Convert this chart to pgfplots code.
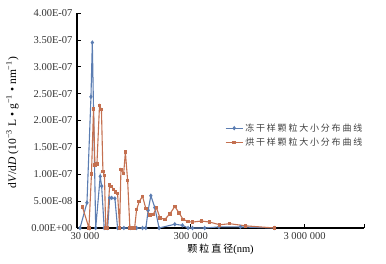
\documentclass[border=0pt]{standalone}
\usepackage{pgfplots}
\pgfplotsset{compat=1.18}
\usepackage{fontspec}
\setmainfont{Liberation Serif}
\newfontfamily\cjk[LetterSpace=20]{Noto Sans CJK SC}
\definecolor{cblue}{RGB}{91,125,178}
\definecolor{cred}{RGB}{196,112,80}
\begin{document}
\begin{tikzpicture}
\useasboundingbox (0,0) rectangle (386pt,264pt);
\begin{axis}[
  at={(77pt,36pt)}, anchor=south west,
  scale only axis, width=287pt, height=215pt,
  xmode=log, log basis x=10,
  xmin=30000, xmax=10000000,
  ymin=0, ymax=4e-7,
  scaled y ticks=false,
  axis x line=bottom, axis y line=left,
  axis line style={-, line width=1.3pt, black},
  tick align=inside, major tick length=4pt,
  tick style={black, line width=0.6pt},
  xtick={30000,300000,3000000,10000000},
  xticklabels={\hspace*{16pt}30 000,300 000,3 000 000,{}},
  minor xtick={}, minor tick length=0pt,
  ytick={0,5e-8,1e-7,1.5e-7,2e-7,2.5e-7,3e-7,3.5e-7,4e-7},
  yticklabels={0.00E+00,5.00E-08,1.00E-07,1.50E-07,2.00E-07,2.50E-07,3.00E-07,3.50E-07,4.00E-07},
  /pgf/number format/assume math mode=true,
  ticklabel style={font=\fontsize{10.5}{12}\selectfont, text=black!80},
  yticklabel style={xshift=-1pt},
  xticklabel style={yshift=-1pt},
  every axis y label/.style={at={(axis description cs:-0.225,0.49)}, rotate=90, anchor=center},
  every axis x label/.style={at={(axis description cs:0.5,-0.10)}, anchor=center},
  ylabel={\fontsize{11.5}{13}\selectfont d\textit{V}/d\textit{D}\hspace{3pt}(10\textsuperscript{−3}\hspace{3pt}L\hspace{3pt}•\hspace{3pt}g\textsuperscript{−1}\hspace{3pt}•\hspace{3pt}nm\textsuperscript{−1})},
  xlabel={\fontsize{10.5}{12}\selectfont{\cjk\fontsize{10}{12}\selectfont 颗粒直径}(nm)},
  legend style={draw=none, fill=none, at={(0.505,0.505)}, anchor=north west,
    font=\cjk\fontsize{9}{11}\selectfont, text=black!75, row sep=1pt},
  legend cell align=left,
  clip=false,
]
\addplot[color=cblue, line width=1.1pt, mark=diamond*, mark size=1.4pt, mark options={fill=cblue}] coordinates {
(31900,0) (36700,4.7e-8) (39800,2.44e-7) (40900,3.45e-7) (43800,0)
(48000,9.6e-8) (49400,7.8e-8) (52000,0) (55800,0)
(58100,5.6e-8) (60600,5.6e-8) (64600,5.5e-8) (68200,0)
(77500,0) (88700,0) (100200,0) (113000,0) (120900,0)
(126700,3.3e-8) (133700,6.0e-8) (145000,3.8e-8) (158000,0)
(217200,7e-9) (253500,5e-9) (284000,0) (310500,0) (398000,0)
(531000,2e-9) (818700,2e-9) (1638000,0)
};
\addlegendentry{冻干样颗粒大小分布曲线}
\addplot[color=cred, line width=1.1pt, mark=square*, mark size=1.2pt, mark options={fill=cred}] coordinates {
(33500,3.9e-8) (38200,0) (40200,1.0e-7) (41900,2.21e-7) (43100,1.17e-7)
(44900,1.19e-7) (47300,2.28e-7) (49200,2.2e-7) (50700,1.05e-7) (52300,0.98e-7)
(53600,0) (55000,0) (58100,8.0e-8) (60400,7.7e-8) (62900,7.2e-8)
(65600,6.7e-8) (68200,6.4e-8) (71100,0) (73000,1.09e-7) (77100,1.01e-7)
(79900,1.41e-7) (83600,8.8e-8) (87500,0) (91100,0) (96300,0)
(100200,3.4e-8) (105600,4.9e-8) (113000,5.9e-8) (120900,3.6e-8) (131000,2.4e-8)
(140100,2.5e-8) (150000,3.8e-8) (160400,1.9e-8) (177300,1.6e-8) (196200,2.6e-8)
(217200,4.0e-8) (236700,2.8e-8) (256800,1.6e-8) (284000,1.2e-8) (310500,1.1e-8)
(372300,1.3e-8) (440400,1.1e-8) (538800,6e-9) (659400,8e-9) (910800,4e-9)
(1638000,0)
};
\addlegendentry{烘干样颗粒大小分布曲线}
\end{axis}
\end{tikzpicture}
\end{document}
